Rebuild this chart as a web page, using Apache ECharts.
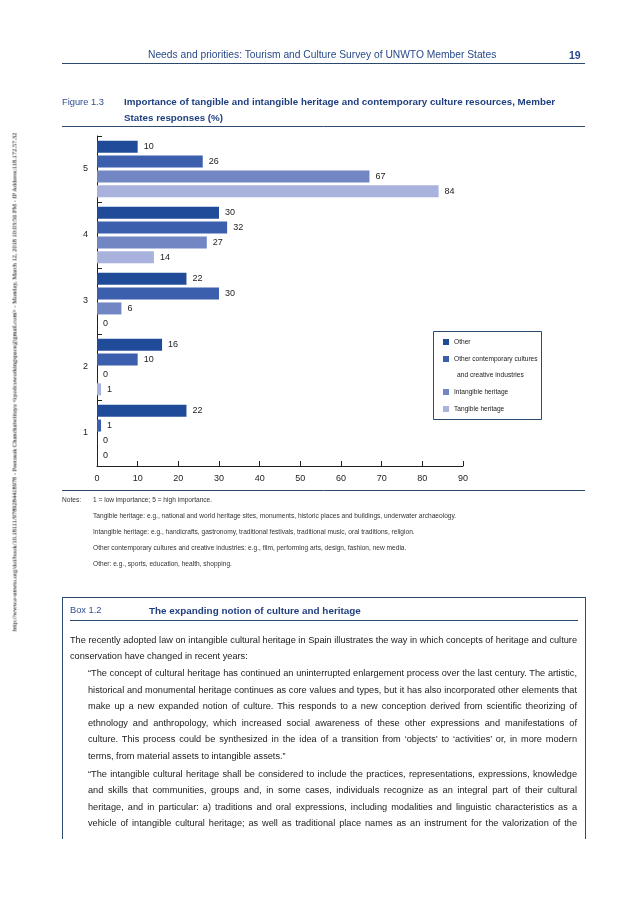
<!DOCTYPE html>
<html><head><meta charset="utf-8">
<script src="https://cdn.jsdelivr.net/npm/echarts@6/dist/echarts.min.js"></script>
<style>
html,body{margin:0;padding:0;background:#fff;}
#page{position:relative;width:638px;height:903px;overflow:hidden;font-family:"Liberation Sans",Arial,sans-serif;color:#222;}
#chart{position:absolute;left:0;top:0;width:638px;height:903px;}
.t{position:absolute;white-space:nowrap;line-height:1;}
.hl{position:absolute;height:0;border-top:1px solid #2c4a6e;}
#box{position:absolute;left:62px;top:597px;width:522px;height:241px;border:1px solid #2c4a6e;border-bottom:none;}
#wm{position:absolute;left:14px;top:382px;transform:translate(-50%,-50%) rotate(-90deg);white-space:nowrap;font:6.4px "Liberation Serif","Times New Roman",serif;color:#000;}
</style></head>
<body><div id="page">
<div id="chart"></div>
<div id="wm">http://www.e-unwto.org/doi/book/10.18111/9789284418978 - Peerasak Chanchaiwittaya &lt;rpodcoworkingspace@gmail.com&gt; - Monday, March 12, 2018 10:03:56 PM - IP Address:118.172.57.32</div>
<div class="t" style="left:148px;top:50px;font-size:10.25px;color:#274a8a;">Needs and priorities: Tourism and Culture Survey of UNWTO Member States</div>
<div class="t" style="left:569px;top:50px;font-size:10.5px;font-weight:bold;color:#274a8a;">19</div>
<div class="hl" style="left:62px;top:63px;width:523px;"></div>
<div id="box"></div>
<div class="t" style="left:70px;top:606px;font-size:9.3px;color:#2d4f8e;">Box 1.2</div>
<div class="t" style="left:149px;top:606px;font-size:9.9px;font-weight:bold;color:#1f3f80;">The expanding notion of culture and heritage</div>
<div class="hl" style="left:70px;top:620px;width:508px;"></div>
<div id="boxtext"></div>
</div>
<script>
// ---- data ----
const categories = ['1', '2', '3', '4', '5'];
const xTickValues = [0, 10, 20, 30, 40, 50, 60, 70, 80, 90];
const otherValues = [22, 16, 22, 30, 10];
const contemporaryValues = [1, 10, 30, 32, 26];
const intangibleValues = [0, 0, 6, 27, 67];
const tangibleValues = [0, 1, 0, 14, 84];
const seriesNames = ['Other', 'Other contemporary cultures and creative industries', 'Intangible heritage', 'Tangible heritage'];
const seriesColors = ['#1f4b98', '#3b5fac', '#7386c4', '#a8b2dc'];
const noteLines = [
  '1 = low importance; 5 = high importance.',
  'Tangible heritage: e.g., national and world heritage sites, monuments, historic places and buildings, underwater archaeology.',
  'Intangible heritage: e.g., handicrafts, gastronomy, traditional festivals, traditional music, oral traditions, religion.',
  'Other contemporary cultures and creative industries: e.g., film, performing arts, design, fashion, new media.',
  'Other: e.g., sports, education, health, shopping.'
];
const introLines = [
  'The recently adopted law on intangible cultural heritage in Spain illustrates the way in which concepts of heritage and culture',
  'conservation have changed in recent years:'
];
const quoteLines = [
  '\u201CThe concept of cultural heritage has continued an uninterrupted enlargement process over the last century. The artistic,',
  'historical and monumental heritage continues as core values and types, but it has also incorporated other elements that',
  'make up a new expanded notion of culture. This responds to a new conception derived from scientific theorizing of',
  'ethnology and anthropology, which increased social awareness of these other expressions and manifestations of',
  'culture. This process could be synthesized in the idea of a transition from \u2018objects\u2019 to \u2018activities\u2019 or, in more modern',
  'terms, from material assets to intangible assets.\u201D',
  '\u201CThe intangible cultural heritage shall be considered to include the practices, representations, expressions, knowledge',
  'and skills that communities, groups and, in some cases, individuals recognize as an integral part of their cultural',
  'heritage, and in particular: a) traditions and oral expressions, including modalities and linguistic characteristics as a',
  'vehicle of intangible cultural heritage; as well as traditional place names as an instrument for the valorization of the'
];
const quoteJustify = [true, true, true, true, true, false, true, true, true, true];

// ---- box text (justified lines) ----
const BOX_FONT = 9.2;
const bt = document.getElementById('boxtext');
function addLine(text, x, yc, w, justify) {
  const s = document.createElement('span');
  s.className = 't';
  s.style.left = x + 'px'; s.style.top = (yc - BOX_FONT / 2) + 'px';
  s.style.fontSize = BOX_FONT + 'px'; s.style.color = '#1a1a1a';
  s.textContent = text;
  bt.appendChild(s);
  if (justify) {
    const nat = s.getBoundingClientRect().width;
    const spaces = (text.match(/ /g) || []).length;
    if (spaces > 0) s.style.wordSpacing = ((w - nat) / spaces) + 'px';
  }
}
addLine(introLines[0], 70, 641, 507, true);
addLine(introLines[1], 70, 657, 507, false);
const quoteY = [674, 691, 707, 724, 740, 757, 775, 791, 808, 824];
quoteLines.forEach((l, i) => addLine(l, 88, quoteY[i], 489, quoteJustify[i]));

// ---- chart ----
const dataSets = [otherValues, contemporaryValues, intangibleValues, tangibleValues];
const chart = echarts.init(document.getElementById('chart'), null, {renderer: 'canvas'});
const FONT = '"Liberation Sans", Arial, sans-serif';
const series = seriesNames.map((name, i) => ({
  name: name,
  type: 'bar',
  data: dataSets[i],
  barWidth: 12,
  barGap: '24%',
  itemStyle: {color: seriesColors[i]},
  label: {show: true, position: 'right', distance: 6, fontSize: 9, color: '#222', fontFamily: FONT},
  emphasis: {disabled: true},
  animation: false
}));
const graphicEls = [
  {type: 'text', x: 62, y: 102, style: {text: 'Figure 1.3', fontSize: 9.3, fontFamily: FONT, fill: '#2d4f8e', verticalAlign: 'middle'}},
  {type: 'text', x: 124, y: 102, style: {text: 'Importance of tangible and intangible heritage and contemporary culture resources, Member', fontSize: 9.8, fontWeight: 'bold', fontFamily: FONT, fill: '#1f3f80', verticalAlign: 'middle'}},
  {type: 'text', x: 124, y: 118, style: {text: 'States responses (%)', fontSize: 9.8, fontWeight: 'bold', fontFamily: FONT, fill: '#1f3f80', verticalAlign: 'middle'}},
  {type: 'line', shape: {x1: 62, y1: 126.5, x2: 585, y2: 126.5}, style: {stroke: '#2c4a6e', lineWidth: 1}},
  {type: 'line', shape: {x1: 62, y1: 490.5, x2: 585, y2: 490.5}, style: {stroke: '#2c4a6e', lineWidth: 1}},
  {type: 'rect', z: 1, shape: {x: 433.5, y: 331.5, width: 108, height: 88}, style: {fill: '#fff', stroke: '#2c4a6e', lineWidth: 1}},
  {type: 'text', z: 5, x: 457, y: 375, style: {text: 'and creative industries', fontSize: 6.7, fontFamily: FONT, fill: '#222', verticalAlign: 'middle'}},
  {type: 'text', x: 62, y: 500, style: {text: 'Notes:', fontSize: 6.6, fontFamily: FONT, fill: '#333', verticalAlign: 'middle'}}
];
const noteY = [500, 516, 532, 548, 564];
noteLines.forEach((l, i) => graphicEls.push({type: 'text', x: 93, y: noteY[i], style: {text: l, fontSize: 6.6, fontFamily: FONT, fill: '#333', verticalAlign: 'middle'}}));

const legendCommon = {
  orient: 'vertical', left: 443, itemWidth: 6, itemHeight: 6, itemGap: 5, itemTextGap: 8, padding: 0,
  icon: 'rect', selectedMode: false,
  textStyle: {fontSize: 6.6, fontFamily: FONT, color: '#222', lineHeight: 12}
};
chart.setOption({
  animation: false,
  textStyle: {fontFamily: FONT},
  grid: {left: 97, top: 136, width: 366, height: 330, containLabel: false},
  legend: [
    Object.assign({}, legendCommon, {top: 336, data: [seriesNames[0], seriesNames[1]],
      formatter: n => n === seriesNames[1] ? 'Other contemporary cultures' : n}),
    Object.assign({}, legendCommon, {top: 386, data: [seriesNames[2], seriesNames[3]]})
  ],
  xAxis: {
    type: 'value', min: xTickValues[0], max: xTickValues[xTickValues.length - 1], interval: 10,
    axisLine: {show: true, lineStyle: {color: '#222', width: 1}},
    axisTick: {show: true, inside: true, length: 5, lineStyle: {color: '#222'}},
    splitLine: {show: false},
    axisLabel: {fontSize: 9, color: '#222', margin: 8, fontFamily: FONT}
  },
  yAxis: {
    type: 'category', data: categories,
    axisLine: {show: true, lineStyle: {color: '#222', width: 1}},
    axisTick: {show: true, inside: true, length: 5, lineStyle: {color: '#222'}},
    axisLabel: {fontSize: 9, color: '#222', margin: 9, fontFamily: FONT}
  },
  graphic: {elements: graphicEls},
  series: series
});
</script>
</body></html>
